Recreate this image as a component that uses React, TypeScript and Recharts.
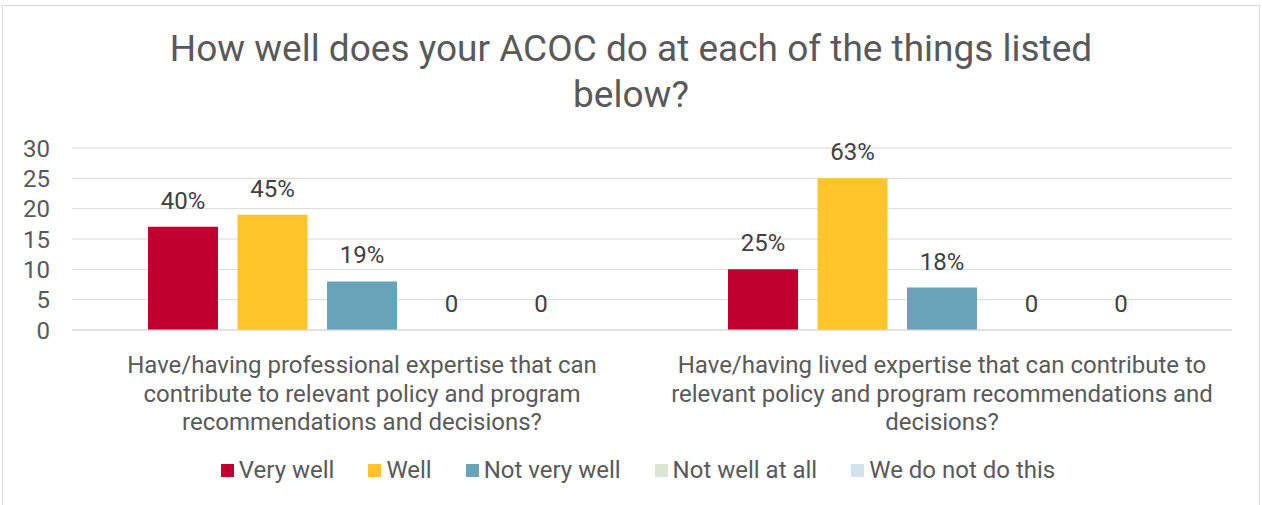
import React from 'react';
import { BarChart, Bar, XAxis, YAxis, CartesianGrid, Legend, LabelList } from 'recharts';

const categories = [
    'Have/having professional expertise that can contribute to relevant policy and program recommendations and decisions?',
    'Have/having lived expertise that can contribute to relevant policy and program recommendations and decisions?',
];
const categoryLines = [
    ['Have/having professional expertise that can', 'contribute to relevant policy and program', 'recommendations and decisions?'],
    ['Have/having lived expertise that can contribute to', 'relevant policy and program recommendations and', 'decisions?'],
];

const seriesNames = ['Very well', 'Well', 'Not very well', 'Not well at all', 'We do not do this'];
const seriesColors = ['#C0002F', '#FFC52B', '#68A3B9', '#DCE4D4', '#D3E3EE'];

const veryWell = [17, 10];
const well = [19, 25];
const notVeryWell = [8, 7];
const notWellAtAll = [0, 0];
const weDoNotDoThis = [0, 0];

const veryWellPct = ['40%', '25%'];
const wellPct = ['45%', '63%'];
const notVeryWellPct = ['19%', '18%'];
const notWellAtAllPct = ['0', '0'];
const weDoNotDoThisPct = ['0', '0'];

const yTicks = [0, 5, 10, 15, 20, 25, 30];

const values = [veryWell, well, notVeryWell, notWellAtAll, weDoNotDoThis];
const labels = [veryWellPct, wellPct, notVeryWellPct, notWellAtAllPct, weDoNotDoThisPct];

const data = categories.map((c, i) => {
    const row: any = { name: c, idx: i };
    seriesNames.forEach((s, k) => {
        row[`s${k}`] = values[k][i];
        row[`l${k}`] = labels[k][i];
    });
    return row;
});

const textColor = '#595959';
const font = 'Roboto, "Noto Sans", sans-serif';

const CategoryTick = (props: any) => {
    const { x, y, index } = props;
    const lines = categoryLines[index] || [];
    return (
        <g>
            {lines.map((l, i) => (
                <text key={i} x={x} y={y + 35 + i * 28.5} textAnchor="middle" fill={textColor} fontSize={24} fontFamily={font}>
                    {l}
                </text>
            ))}
        </g>
    );
};

const makeLabel = (k: number) => (props: any) => {
    const { x, y, width, index } = props;
    const text = labels[k][index];
    return (
        <text x={x + width / 2} y={y - 18} textAnchor="middle" fill="#404040" fontSize={24} fontFamily={font}>
            {text}
        </text>
    );
};

const LegendContent = () => (
    <div style={{ display: 'flex', justifyContent: 'center', alignItems: 'center', fontFamily: font, fontSize: 24, color: textColor, height: 50, paddingLeft: 44 }}>
        {seriesNames.map((s, k) => (
            <div key={s} style={{ display: 'flex', alignItems: 'center', marginRight: k < seriesNames.length - 1 ? 34 : 0 }}>
                <span style={{ width: 13, height: 13, background: seriesColors[k], marginRight: 5, display: 'inline-block' }} />
                <span>{s}</span>
            </div>
        ))}
    </div>
);

export default function App() {
    return (
        <div style={{ position: 'absolute', left: 0, top: 0, width: 1262, height: 505, background: '#fff' }}>
            <div style={{ position: 'absolute', left: 2, top: 5, width: 1258, height: 500, border: '1px solid #d9d9d9', borderBottom: 'none', boxSizing: 'border-box' }} />
            <div style={{ position: 'absolute', left: 0, top: 26, width: 1262, textAlign: 'center', fontFamily: font, fontSize: 37, lineHeight: '46px', color: textColor }}>
                How well does your ACOC do at each of the things listed<br />below?
            </div>
            <div style={{ position: 'absolute', left: 0, top: 0 }}>
                <BarChart width={1262} height={505} data={data} margin={{ top: 148, right: 30, left: 0, bottom: 10 }} barSize={70} barGap={19.5}>
                    <CartesianGrid vertical={false} stroke="#d9d9d9" />
                    <XAxis dataKey="name" tick={<CategoryTick />} tickLine={false} axisLine={{ stroke: '#d9d9d9' }} height={115} interval={0} />
                    <YAxis domain={[0, 30]} ticks={yTicks} interval={0} width={72} tickLine={false} axisLine={false} tickSize={0} tickMargin={22}
                        tick={{ fill: textColor, fontSize: 24, fontFamily: font }} />
                    <Legend verticalAlign="bottom" height={50} content={<LegendContent />} />
                    {seriesNames.map((s, k) => (
                        <Bar key={s} dataKey={`s${k}`} name={s} fill={seriesColors[k]} minPointSize={0.01} isAnimationActive={false}>
                            <LabelList dataKey={`l${k}`} content={makeLabel(k)} />
                        </Bar>
                    ))}
                </BarChart>
            </div>
        </div>
    );
}
